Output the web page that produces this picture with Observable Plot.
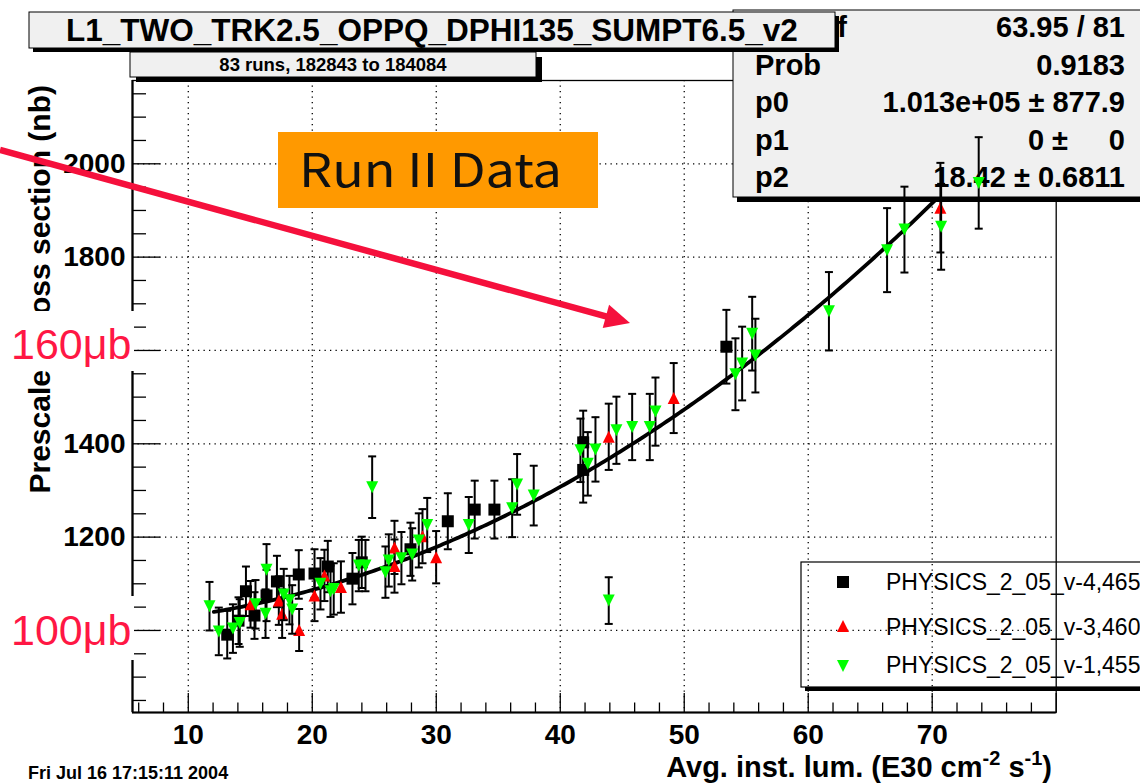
<!DOCTYPE html>
<html><head><meta charset="utf-8">
<script src="https://cdn.jsdelivr.net/npm/d3@7"></script>
<script src="https://cdn.jsdelivr.net/npm/@observablehq/plot@0.6"></script>
<style>
body{margin:0;background:#fff;}
#wrap{width:1140px;height:783px;overflow:hidden;}
</style></head><body><div id="wrap"></div>
<script>
// ---------------- data ----------------
const blackX = [13.14, 14.05, 14.65, 15.34, 16.31, 17.15, 18.91, 20.18, 21.25, 23.24, 23.99, 27.92, 30.93, 33.10, 34.69, 41.85, 41.85, 53.40];
const blackY = [991, 1021, 1084, 1032, 1075, 1105, 1120, 1122, 1137, 1111, 1146, 1174, 1234, 1259, 1259, 1403, 1344, 1608];
const blackErr = [51, 50, 53, 50, 55, 55, 52, 52, 55, 55, 55, 57, 60, 62, 62, 68, 70, 79];

const redX = [15.02, 17.30, 17.57, 18.94, 20.18, 20.98, 22.31, 26.63, 26.63, 28.89, 29.99, 43.91, 49.15, 70.66];
const redY = [1056, 1064, 1036, 1001, 1075, 1118, 1093, 1178, 1138, 1202, 1157, 1415, 1498, 1906];
const redErr = [50, 52, 52, 45, 55, 55, 55, 57, 57, 58, 56, 71, 75, 96];

const greenX = [11.71, 12.46, 13.60, 14.15, 15.42, 16.23, 16.31, 17.70, 18.16, 18.38, 20.66, 21.47, 21.73, 23.75, 24.29, 24.83, 25.90, 26.17, 27.19, 28.06, 28.59, 29.27, 32.62, 36.12, 36.52, 37.86, 41.63, 42.22, 42.84, 43.91, 44.53, 45.80, 47.22, 47.68, 54.13, 54.67, 55.48, 55.74, 61.67, 66.36, 67.76, 70.72, 73.75];
const greenY = [1052, 998, 1004, 1016, 1056, 1036, 1130, 1077, 1065, 1045, 1100, 1084, 1089, 1139, 1139, 1307, 1125, 1150, 1155, 1163, 1193, 1226, 1226, 1262, 1313, 1289, 1386, 1357, 1388, 1064, 1429, 1436, 1436, 1469, 1549, 1572, 1636, 1589, 1684, 1815, 1859, 1865, 1959];
const greenErr = [52, 51, 52, 51, 52, 52, 55, 55, 52, 52, 55, 55, 55, 55, 55, 66, 55, 56, 56, 56, 58, 58, 60, 62, 65, 64, 68, 68, 69, 50, 72, 71, 71, 73, 77, 79, 79, 79, 84, 90, 92, 92, 98];

// fit parameters (shown in the stats box); f(x) = (p0 + p1 x + p2 x^2)/100
const fitP0 = 101300, fitP1 = 0, fitP2 = 18.42;
const fitRange = [12.06, 70.5];

const xTickLabels = [10, 20, 30, 40, 50, 60, 70];
const yTickLabels = [1200, 1400, 1800, 2000];
const xGrid = [10, 20, 30, 40, 50, 60, 70];
const yGrid = [1000, 1200, 1400, 1600, 1800, 2000];

const titleText = "L1_TWO_TRK2.5_OPPQ_DPHI135_SUMPT6.5_v2";
const subtitleText = "83 runs, 182843 to 184084";
const statsLabels = ["Prob", "p0", "p1", "p2"];
const statsValues = ["0.9183", "1.013e+05 \u00b1 877.9", "", "18.42 \u00b1 0.6811"];
const legendLabels = ["PHYSICS_2_05_v-4,465", "PHYSICS_2_05_v-3,460", "PHYSICS_2_05_v-1,455"];
const dateText = "Fri Jul 16 17:15:11 2004";

// ---------------- build ----------------
const xDom = [5.5, 80], yDom = [824.2, 2178.5];
const W = 1140, H = 783, mL = 132, mR = 1140 - 1055.7, mT = 80, mB = 783 - 712;
const pxPerY = (H - mT - mB) / (yDom[1] - yDom[0]);
const pxPerX = (W - mL - mR) / (xDom[1] - xDom[0]);

const mk = (xs, ys, es) => xs.map((x, i) => ({x, y: ys[i], e: es[i]}));
const black = mk(blackX, blackY, blackErr);
const red = mk(redX, redY, redErr);
const green = mk(greenX, greenY, greenErr);

const curve = d3.range(fitRange[0], fitRange[1] + 1e-9, 0.25).map(x => ({x, y: (fitP0 + fitP1 * x + fitP2 * x * x) / 100}));

const xMajor = d3.range(10, 80.01, 10);
const xMinor = d3.range(6, 80.01, 2).filter(v => v % 10 !== 0);
const yMajor = d3.range(1000, 2100, 200);
const yMinor = d3.range(850, 2176, 50).filter(v => (v - 1000) % 200 !== 0);
const xMajLen = 19 / pxPerY, xMinLen = 9.5 / pxPerY;
const yMajLen = 28 / pxPerX, yMinLen = 14 / pxPerX;

const rad = s => Math.sqrt(s / Math.PI);
const capSym = {draw(c, s) { const r = rad(s); c.moveTo(-r, 0); c.lineTo(r, 0); }};
const sqSym = {draw(c, s) { const r = rad(s); c.rect(-r, -r, 2 * r, 2 * r); }};
const upSym = {draw(c, s) { const r = rad(s); c.moveTo(0, -r); c.lineTo(r, r); c.lineTo(-r, r); c.closePath(); }};
const downSym = {draw(c, s) { const r = rad(s); c.moveTo(-r, -r); c.lineTo(r, -r); c.lineTo(0, r); c.closePath(); }};

function series(data, sym, color) {
  return [
    Plot.ruleX(data, {x: "x", y1: d => d.y - d.e, y2: d => d.y + d.e, stroke: "black", strokeWidth: 2}),
    Plot.dot(data, {x: "x", y: d => d.y + d.e, symbol: capSym, r: 4, stroke: "black", strokeWidth: 2, fill: "none"}),
    Plot.dot(data, {x: "x", y: d => d.y - d.e, symbol: capSym, r: 4, stroke: "black", strokeWidth: 2, fill: "none"}),
    Plot.dot(data, {x: "x", y: "y", symbol: sym, r: 6, fill: color, stroke: "none"})
  ];
}

function layer(draw) {
  return () => { const g = d3.create("svg:g").attr("text-anchor", "start"); draw(g); return g.node(); };
}
const bold = "bold";
const FF = "'Liberation Sans', Arial, Helvetica, sans-serif";

const statsLayer = layer(g => {
  g.append("rect").attr("x", 733).attr("y", 10).attr("width", 430).attr("height", 187)
    .attr("fill", "#f0f0f0").attr("stroke", "black").attr("stroke-width", 1);
  g.append("rect").attr("x", 737).attr("y", 197).attr("width", 430).attr("height", 5).attr("fill", "black");
  const t = g.append("g").attr("font-family", FF).attr("font-weight", bold).attr("font-size", 29).attr("fill", "black");
  const chi = t.append("text").attr("x", 847).attr("y", 37).attr("text-anchor", "end");
  chi.append("tspan").text("\u03c7");
  chi.append("tspan").attr("font-size", 19).attr("dy", -12).text("2");
  chi.append("tspan").attr("dy", 12).text(" / ndf");
  t.append("text").attr("x", 1125).attr("y", 37).attr("text-anchor", "end").text("63.95 / 81");
  statsLabels.forEach((l, i) => {
    const y = 74.5 + i * 37.5;
    t.append("text").attr("x", 755).attr("y", y).text(l);
    if (statsValues[i]) t.append("text").attr("x", 1125).attr("y", y).attr("text-anchor", "end").text(statsValues[i]);
  });
  const y1 = 74.5 + 2 * 37.5;
  t.append("text").attr("x", 1068).attr("y", y1).attr("text-anchor", "end").text("0 \u00b1");
  t.append("text").attr("x", 1125).attr("y", y1).attr("text-anchor", "end").text("0");
});

const topLayer = layer(g => {
  // title box
  g.append("rect").attr("x", 33).attr("y", 16).attr("width", 806).attr("height", 36).attr("fill", "black");
  g.append("rect").attr("x", 29).attr("y", 12).attr("width", 806).attr("height", 36)
    .attr("fill", "#f0f0f0").attr("stroke", "black").attr("stroke-width", 1);
  g.append("text").attr("x", 432).attr("y", 41).attr("text-anchor", "middle")
    .attr("font-family", FF).attr("font-weight", bold).attr("font-size", 31.5).text(titleText);
  // subtitle box
  g.append("rect").attr("x", 136).attr("y", 57).attr("width", 406).attr("height", 25).attr("fill", "black");
  g.append("rect").attr("x", 130).attr("y", 52).attr("width", 406).attr("height", 25)
    .attr("fill", "#f0f0f0").attr("stroke", "black").attr("stroke-width", 1);
  g.append("text").attr("x", 333).attr("y", 71).attr("text-anchor", "middle")
    .attr("font-family", FF).attr("font-weight", bold).attr("font-size", 18.5).text(subtitleText);
  // legend
  g.append("rect").attr("x", 805).attr("y", 687).attr("width", 400).attr("height", 4).attr("fill", "black");
  g.append("rect").attr("x", 801).attr("y", 562).attr("width", 400).attr("height", 125)
    .attr("fill", "none").attr("stroke", "black").attr("stroke-width", 1.2);
  const lg = g.append("g").attr("font-family", FF).attr("font-size", 23);
  const baselines = [590, 635, 673], centers = [582, 626, 666];
  lg.append("rect").attr("x", 837).attr("y", centers[0] - 6).attr("width", 12).attr("height", 12).attr("fill", "black");
  lg.append("path").attr("d", `M843,${centers[1]-6}L849,${centers[1]+6}L837,${centers[1]+6}Z`).attr("fill", "#ff0000");
  lg.append("path").attr("d", `M837,${centers[2]-6}L849,${centers[2]-6}L843,${centers[2]+6}Z`).attr("fill", "#00ff00");
  legendLabels.forEach((l, i) => lg.append("text").attr("x", 886).attr("y", baselines[i]).text(l));
  // y title
  g.append("text").attr("transform", "translate(50,85) rotate(-90)").attr("text-anchor", "end")
    .attr("font-family", FF).attr("font-weight", bold).attr("font-size", 30).text("Prescaled cross section (nb)");
  // white patches with red labels
  g.append("rect").attr("x", 0).attr("y", 311).attr("width", 134).attr("height", 60).attr("fill", "white");
  g.append("rect").attr("x", 0).attr("y", 596).attr("width", 134).attr("height", 64).attr("fill", "white");
  g.append("text").attr("x", 11).attr("y", 359).attr("font-family", FF).attr("font-size", 43).attr("fill", "#ff1744").text("160\u03bcb");
  g.append("text").attr("x", 11).attr("y", 645).attr("font-family", FF).attr("font-size", 43).attr("fill", "#ff1744").text("100\u03bcb");
  // x title
  const xt = g.append("text").attr("x", 1052).attr("y", 777).attr("text-anchor", "end")
    .attr("font-family", FF).attr("font-weight", bold).attr("font-size", 29);
  xt.append("tspan").text("Avg. inst. lum. (E30 cm");
  xt.append("tspan").attr("font-size", 20).attr("dy", -12).text("-2");
  xt.append("tspan").attr("dy", 12).text(" s");
  xt.append("tspan").attr("font-size", 20).attr("dy", -12).text("-1");
  xt.append("tspan").attr("dy", 12).text(")");
  // date
  g.append("text").attr("x", 28).attr("y", 779).attr("font-family", FF).attr("font-weight", bold)
    .attr("font-size", 18).text(dateText);
  // Run II Data box
  g.append("rect").attr("x", 278).attr("y", 132).attr("width", 320).attr("height", 76).attr("fill", "#ff9900");
  g.append("text").attr("x", 299).attr("y", 187).attr("font-family", "'Noto Sans CJK JP', 'DejaVu Sans', sans-serif")
    .attr("font-size", 46).attr("fill", "#111").attr("textLength", 263).attr("lengthAdjust", "spacingAndGlyphs").text("Run II Data");
  // red arrow
  const tip = [630, 323], start = [0, 150];
  const dx = tip[0] - start[0], dy = tip[1] - start[1], L = Math.hypot(dx, dy);
  const ux = dx / L, uy = dy / L, px = -uy, py = ux;
  const hl = 25, hw = 12;
  const bx = tip[0] - hl * ux, by = tip[1] - hl * uy;
  g.append("line").attr("x1", start[0]).attr("y1", start[1]).attr("x2", bx + 2 * ux).attr("y2", by + 2 * uy)
    .attr("stroke", "#f5103c").attr("stroke-width", 6.5);
  g.append("path").attr("d", `M${tip[0]},${tip[1]}L${bx + hw * px},${by + hw * py}L${bx - hw * px},${by - hw * py}Z`).attr("fill", "#f5103c");
});

const plot = Plot.plot({
  width: W, height: H,
  marginLeft: mL, marginRight: mR, marginTop: mT, marginBottom: mB,
  x: {domain: xDom}, y: {domain: yDom},
  style: {fontFamily: FF, background: "white", overflow: "hidden"},
  marks: [
    Plot.ruleX(xGrid, {x: d => d, stroke: "black", strokeWidth: 1.3, strokeDasharray: "1.3,4.2"}),
    Plot.ruleY(yGrid, {y: d => d, stroke: "black", strokeWidth: 1.3, strokeDasharray: "1.3,4.2"}),
    Plot.ruleX(xMajor, {x: d => d, y1: yDom[0], y2: yDom[0] + xMajLen, stroke: "black", strokeWidth: 1.3}),
    Plot.ruleX(xMinor, {x: d => d, y1: yDom[0], y2: yDom[0] + xMinLen, stroke: "black", strokeWidth: 1.3}),
    Plot.ruleY(yMajor, {y: d => d, x1: xDom[0], x2: xDom[0] + yMajLen, stroke: "black", strokeWidth: 1.3}),
    Plot.ruleY(yMinor, {y: d => d, x1: xDom[0], x2: xDom[0] + yMinLen, stroke: "black", strokeWidth: 1.3}),
    Plot.frame({stroke: "black", strokeWidth: 1.3}),
    Plot.ruleX([xDom[0]], {x: d => d, stroke: "black", strokeWidth: 2.2}),
    Plot.ruleY([yDom[0]], {y: d => d, stroke: "black", strokeWidth: 2.2}),
    Plot.axisX({ticks: xTickLabels, tickSize: 0, tickPadding: 12, fontSize: 28, fontWeight: "bold", label: null, tickFormat: d => String(d)}),
    Plot.axisY({ticks: yTickLabels, tickSize: 0, tickPadding: 7, fontSize: 28, fontWeight: "bold", label: null, tickFormat: d => String(d)}),
    Plot.line(curve, {x: "x", y: "y", stroke: "black", strokeWidth: 3.8}),
    statsLayer,
    ...series(black, sqSym, "black"),
    ...series(red, upSym, "#ff0000"),
    ...series(green, downSym, "#00ff00"),
    topLayer
  ]
});
document.getElementById("wrap").appendChild(plot);
</script>
</body></html>
